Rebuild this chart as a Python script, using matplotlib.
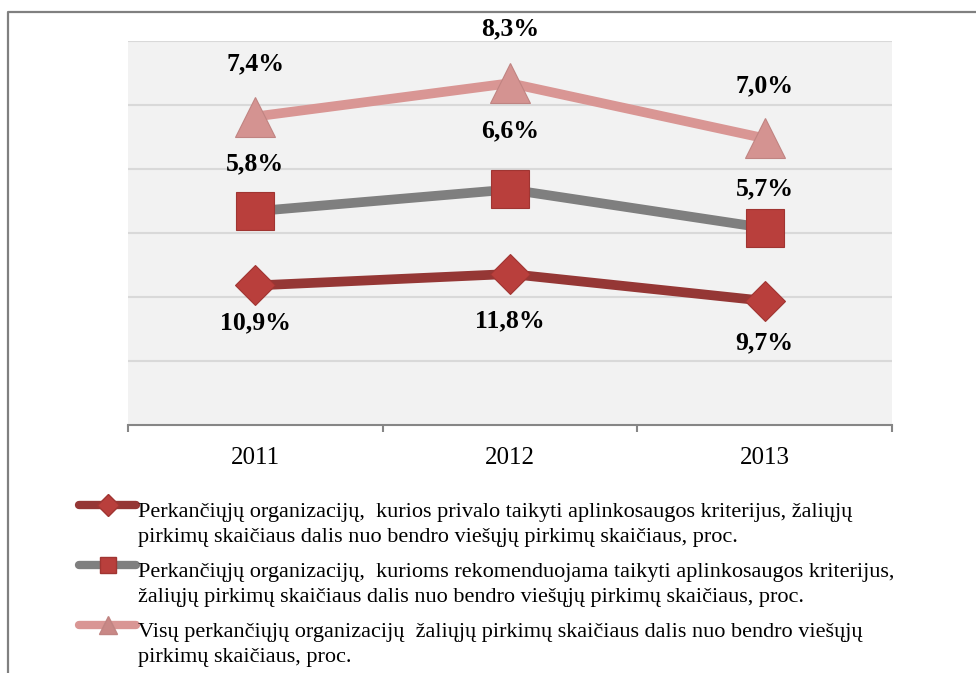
import matplotlib
matplotlib.use("Agg")
import numpy as np
import matplotlib.pyplot as plt
from matplotlib.lines import Line2D

plt.rcParams['font.family'] = ['Liberation Serif', 'DejaVu Serif']

years = ['2011', '2012', '2013']
privalo = [10.9, 11.8, 9.7]          # red series
rekomenduojama = [5.8, 6.6, 5.7]     # gray series
visu = [7.4, 8.3, 7.0]               # pink series

labels = [
    ["Perkančiųjų organizacijų,  kurios privalo taikyti aplinkosaugos kriterijus, žaliųjų",
     "pirkimų skaičiaus dalis nuo bendro viešųjų pirkimų skaičiaus, proc."],
    ["Perkančiųjų organizacijų,  kurioms rekomenduojama taikyti aplinkosaugos kriterijus,",
     "žaliųjų pirkimų skaičiaus dalis nuo bendro viešųjų pirkimų skaičiaus, proc."],
    ["Visų perkančiųjų organizacijų  žaliųjų pirkimų skaičiaus dalis nuo bendro viešųjų",
     "pirkimų skaičiaus, proc."],
]

W, H = 976, 673
fig = plt.figure(figsize=(W / 100, H / 100), dpi=100, facecolor='white')

# outer frame (left + top only, clipped in the original)
fig.add_artist(Line2D([8 / W, 8 / W, 1.0], [0.0, 1 - 12 / H, 1 - 12 / H],
                      transform=fig.transFigure, color='#808080', lw=1.6))

ax = fig.add_axes([128 / W, 1 - 425 / H, (892 - 128) / W, (425 - 41) / H])
ax.set_facecolor('#f2f2f2')

x = np.arange(len(years))
s1 = np.array(privalo)
s2 = s1 + np.array(rekomenduojama)   # stacked line chart
s3 = s2 + np.array(visu)

ax.plot(x, s3, color='#d99694', lw=7, marker='^', ms=29, mfc='#d49391',
        mec='#c08482', mew=0.8, zorder=3)
ax.plot(x, s2, color='#7f7f7f', lw=7, marker='s', ms=27, mfc='#b93f3c',
        mec='#a03532', mew=0.8, zorder=3)
ax.plot(x, s1, color='#953735', lw=7, marker='D', ms=20, mfc='#b93f3c',
        mec='#a03532', mew=0.8, zorder=3)

# label offsets (points), as placed in the original
off3 = [38, 39, 38]
off2 = [34, 42, 28]
off1 = [-27, -34, -30]

def fmt(v):
    return f"{v:.1f}%".replace('.', ',')

for i in range(len(years)):
    ax.annotate(fmt(visu[i]), (x[i], s3[i]), xytext=(0, off3[i]),
                textcoords='offset points', ha='center', va='center',
                fontsize=18.5, fontweight='bold')
    ax.annotate(fmt(rekomenduojama[i]), (x[i], s2[i]), xytext=(0, off2[i]),
                textcoords='offset points', ha='center', va='center',
                fontsize=18.5, fontweight='bold')
    ax.annotate(fmt(privalo[i]), (x[i], s1[i]), xytext=(0, off1[i]),
                textcoords='offset points', ha='center', va='center',
                fontsize=18.5, fontweight='bold')

ax.set_xlim(-0.5, 2.5)
ax.set_ylim(0, 30)
ax.set_yticks(np.arange(5, 31, 5))
ax.yaxis.grid(True, color='#d9d9d9', lw=1.5)
ax.set_axisbelow(True)
ax.tick_params(axis='y', length=0, labelleft=False)

ax.set_xticks(x)
ax.set_xticklabels(years, fontsize=18)
ax.set_xticks([-0.5, 0.5, 1.5, 2.5], minor=True)
ax.tick_params(axis='x', which='major', length=0, pad=16)
ax.tick_params(axis='x', which='minor', length=5, color='#868686', width=1.5)

for side in ['left', 'right', 'top']:
    ax.spines[side].set_visible(False)
ax.spines['bottom'].set_color('#868686')
ax.spines['bottom'].set_linewidth(1.5)

# legend drawn by hand so the handle sits on the first text line
leg_styles = [
    dict(color='#953735', marker='D', ms=11, mfc='#b93f3c', mec='#a03532'),
    dict(color='#7f7f7f', marker='s', ms=12, mfc='#b93f3c', mec='#a03532'),
    dict(color='#d99694', marker='^', ms=13, mfc='#c98886', mec='#c08482'),
]
leg_y = [505, 565, 625]
for yy, st, lines in zip(leg_y, leg_styles, labels):
    fig.add_artist(Line2D([79 / W, 108 / W, 136 / W], [1 - yy / H] * 3,
                          transform=fig.transFigure, lw=6, markevery=[1],
                          solid_capstyle='round', **st))
    for k, line in enumerate(lines):
        fig.text(138 / W, 1 - (yy + 12 + 25 * k) / H, line, fontsize=16,
                 va='baseline', ha='left')

plt.savefig('out.png', dpi=100, facecolor='white')
plt.close()
